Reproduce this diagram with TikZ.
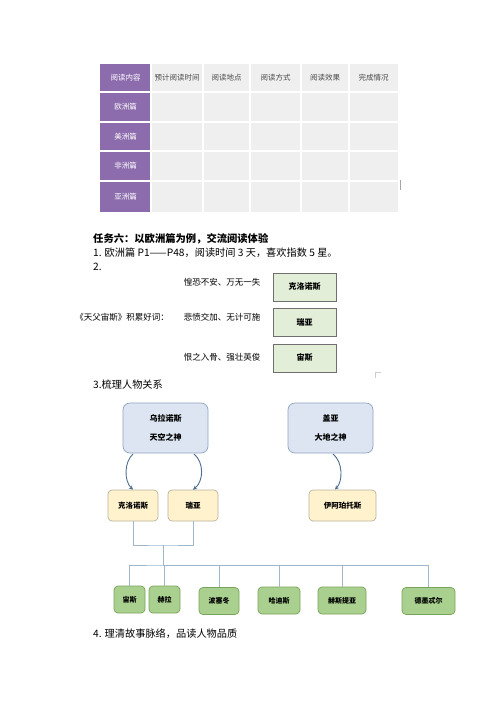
\documentclass[tikz,border=0pt]{standalone}
\usepackage{fontspec}
\newfontfamily\cjk{Noto Sans CJK SC}
\usetikzlibrary{arrows.meta}
\definecolor{purp}{HTML}{8D6CAE}
\definecolor{cellg}{HTML}{EFEFEF}
\definecolor{hdrtxt}{HTML}{4A4A4A}
\definecolor{lgreen}{HTML}{E2EED8}
\definecolor{gborder}{HTML}{6F6F6F}
\definecolor{bluef}{HTML}{DCE5F1}
\definecolor{blueb}{HTML}{8EA4C2}
\definecolor{yelf}{HTML}{FFF2CC}
\definecolor{yelb}{HTML}{B9B39E}
\definecolor{dgreenf}{HTML}{A9D08E}
\definecolor{dgreenb}{HTML}{78A35A}
\definecolor{connc}{HTML}{9FB6CC}
\definecolor{arrc}{HTML}{4F6E8E}
\begin{document}
\begin{tikzpicture}[x=1pt,y=-1pt,font=\cjk,
  hdr/.style={font=\cjk\fontsize{7.5}{8}\selectfont,text=hdrtxt},
  rowlbl/.style={font=\cjk\fontsize{7.5}{8}\selectfont,text=white},
  bodytxt/.style={font=\cjk\fontsize{10.2}{11}\selectfont,anchor=west,inner sep=0pt},
  wordtxt/.style={font=\cjk\fontsize{8.5}{10}\selectfont,inner sep=0pt},
  namebox/.style={draw=gborder,fill=lgreen,line width=0.6pt,minimum width=63pt,minimum height=28pt,font=\cjk\bfseries\fontsize{8}{9}\selectfont,inner sep=0pt},
  godbox/.style={draw=blueb,fill=bluef,line width=0.7pt,rounded corners=7pt,minimum width=85pt,minimum height=50pt,font=\cjk\bfseries\fontsize{8}{9}\selectfont,align=center,inner sep=0pt},
  titanbox/.style={draw=yelb,fill=yelf,line width=0.7pt,rounded corners=4pt,minimum width=50pt,minimum height=31pt,font=\cjk\bfseries\fontsize{7.5}{9}\selectfont,inner sep=0pt},
  kidbox/.style={draw=dgreenb,fill=dgreenf,line width=0.7pt,rounded corners=4pt,minimum height=27pt,font=\cjk\bfseries\fontsize{7}{8}\selectfont,inner sep=0pt},
  conn/.style={draw=connc,line width=0.8pt},
  arr/.style={draw=arrc,line width=0.9pt,-{Stealth[length=4pt,width=4pt]}}]
\useasboundingbox (0,0) rectangle (500,707);
\fill[white] (0,0) rectangle (500,707);
% ---------- table ----------
\fill[cellg] (151,64) rectangle (398,212);
\fill[purp] (100,64) rectangle (151,212);
\foreach \yy in {92,122,151,181} \draw[white,line width=1.6pt] (100,\yy) -- (398,\yy);
\foreach \xx in {151,203,250,301,349} \draw[white,line width=1.6pt] (\xx,64) -- (\xx,212);
\node[rowlbl] (h0) at (125.5,78) {阅读内容};
\node[hdr] (h1) at (177,78) {预计阅读时间};
\node[hdr] (h2) at (226.5,78) {阅读地点};
\node[hdr] (h3) at (275.5,78) {阅读方式};
\node[hdr] (h4) at (325,78) {阅读效果};
\node[hdr] (h5) at (373.5,78) {完成情况};
\node[rowlbl] (r1) at (125.5,107) {欧洲篇};
\node[rowlbl] (r2) at (125.5,136.5) {美洲篇};
\node[rowlbl] (r3) at (125.5,166) {非洲篇};
\node[rowlbl] (r4) at (125.5,196.5) {亚洲篇};
\draw[gray!70,line width=0.8pt] (400,180) -- (400,190);
% ---------- task six ----------
\node[bodytxt,font=\cjk\bfseries\fontsize{10.3}{11}\selectfont] (t6) at (93,239) {任务六：以欧洲篇为例，交流阅读体验};
\node[bodytxt] (l1) at (93,252.5) {1. 欧洲篇 P1——P48，阅读时间 3 天，喜欢指数 5 星。};
\node[bodytxt] (l2) at (93,266.5) {2.};
\node[wordtxt,anchor=east] (w0) at (169,317) {《天父宙斯》积累好词：};
\node[wordtxt] (w1) at (222,282) {惶恐不安、万无一失};
\node[wordtxt] (w2) at (222,317) {悲愤交加、无计可施};
\node[wordtxt] (w3) at (222,357) {恨之入骨、强壮英俊};
\node[namebox] (b1) at (304.5,287) {克洛诺斯};
\node[namebox] (b2) at (304.5,322) {瑞亚};
\node[namebox] (b3) at (304.5,358) {宙斯};
\draw[gray!40,line width=0.6pt] (375.5,378) -- (375.5,372.5) -- (381,372.5);
% ---------- relations ----------
\node[bodytxt] (l3) at (93,385) {3.梳理人物关系};
\node[godbox] (sky) at (165.5,428) {乌拉诺斯\\[10pt]天空之神};
\node[godbox] (gaia) at (330.5,428) {盖亚\\[10pt]大地之神};
\node[titanbox] (kro) at (133,505.5) {克洛诺斯};
\node[titanbox] (rhea) at (193,505.5) {瑞亚};
\node[titanbox,minimum width=67pt] (iap) at (342.5,505.5) {伊阿珀托斯};
\draw[arr] (133,454) .. controls (124,462) and (124,481) .. (kro.north);
\draw[arr] (194,454) .. controls (204,462) and (204,481) .. (rhea.north);
\draw[arr] (333,454) .. controls (343,462) and (343,481) .. (335,489.5);
\coordinate (j1) at (163,545);
\coordinate (j2) at (163,565);
\node[kidbox,minimum width=31pt] (zeus) at (129.5,599.5) {宙斯};
\node[kidbox,minimum width=31pt] (hera) at (164.5,599.5) {赫拉};
\node[kidbox,minimum width=40pt] (pos) at (219,601) {波塞冬};
\node[kidbox,minimum width=42pt] (had) at (279,600.5) {哈迪斯};
\node[kidbox,minimum width=48pt] (hes) at (342,600.5) {赫斯提亚};
\node[kidbox,minimum width=53pt] (dem) at (428.5,601) {德墨忒尔};
\draw[conn] (kro.south) |- (j1) -| (rhea.south);
\draw[conn] (j1) -- (j2);
\draw[conn] (zeus.north) |- (j2) -| (dem.north);
\draw[conn] (j2) -| (hera.north);
\draw[conn] (j2) -| (pos.north);
\draw[conn] (j2) -| (had.north);
\draw[conn] (j2) -| (hes.north);
\node[bodytxt] (l4) at (93,634) {4. 理清故事脉络，品读人物品质};
\end{tikzpicture}
\end{document}
